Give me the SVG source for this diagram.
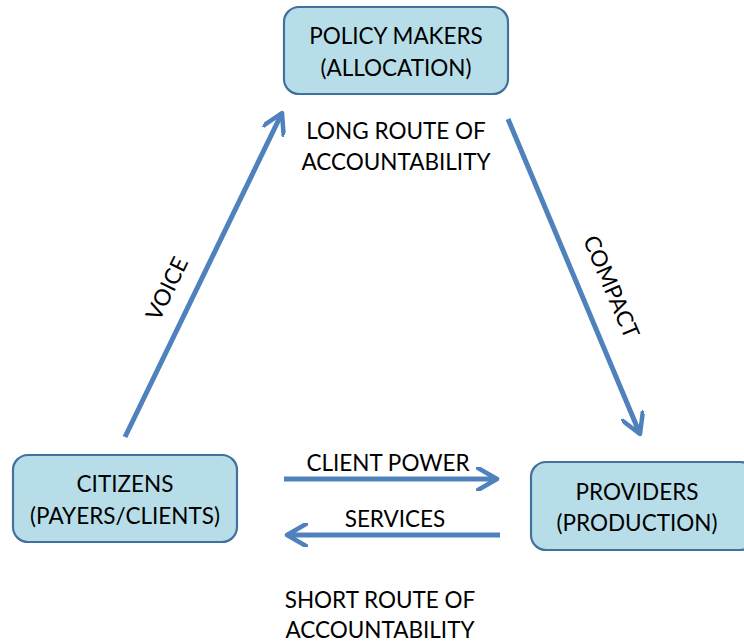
<svg xmlns="http://www.w3.org/2000/svg" width="744" height="642" viewBox="0 0 744 642">
  <style>
    .box { fill: #B7DEE8; stroke: #41719C; stroke-width: 2.2; }
    .lbl { font-family: Lato, "Liberation Sans", sans-serif; font-size: 22.5px; fill: #000; text-anchor: middle; }
    .conn { stroke: #4F81BD; stroke-width: 5; fill: none; marker-end: url(#head); }
  </style>
  <defs>
    <marker id="head" viewBox="0 0 24 24" refX="21" refY="12" markerWidth="24" markerHeight="24" markerUnits="userSpaceOnUse" orient="auto">
      <path d="M2,1 L21,12 L2,23" fill="none" stroke="#4F81BD" stroke-width="4.5" stroke-linecap="round" stroke-linejoin="round"/>
    </marker>
  </defs>
  <rect width="744" height="642" fill="#fff"/>

  <g id="connectors">
    <line class="conn" x1="125" y1="437" x2="282" y2="113"/>
    <line class="conn" x1="508" y1="119" x2="640" y2="434"/>
    <line class="conn" x1="284" y1="479" x2="497" y2="479"/>
    <line class="conn" x1="500" y1="535" x2="287" y2="535"/>
    <text class="lbl" transform="translate(174,292) rotate(-64)">VOICE</text>
    <text class="lbl" transform="translate(604,290) rotate(67)">COMPACT</text>
    <text class="lbl" x="388" y="471">CLIENT POWER</text>
    <text class="lbl" x="395" y="527">SERVICES</text>
  </g>

  <g id="policy-makers">
    <rect class="box" x="284" y="7" width="224" height="87" rx="15"/>
    <text class="lbl" x="396" y="44">POLICY MAKERS</text>
    <text class="lbl" x="396" y="76">(ALLOCATION)</text>
  </g>

  <g id="citizens">
    <rect class="box" x="13" y="455" width="224" height="87" rx="15"/>
    <text class="lbl" x="125" y="492">CITIZENS</text>
    <text class="lbl" x="125" y="524">(PAYERS/CLIENTS)</text>
  </g>

  <g id="providers">
    <rect class="box" x="531" y="462" width="224" height="88" rx="15"/>
    <text class="lbl" x="637" y="500">PROVIDERS</text>
    <text class="lbl" x="637" y="531">(PRODUCTION)</text>
  </g>

  <g id="route-labels">
    <text class="lbl" x="396" y="139">LONG ROUTE OF</text>
    <text class="lbl" x="396" y="170">ACCOUNTABILITY</text>
    <text class="lbl" x="380" y="608">SHORT ROUTE OF</text>
    <text class="lbl" x="380" y="638">ACCOUNTABILITY</text>
  </g>
</svg>
